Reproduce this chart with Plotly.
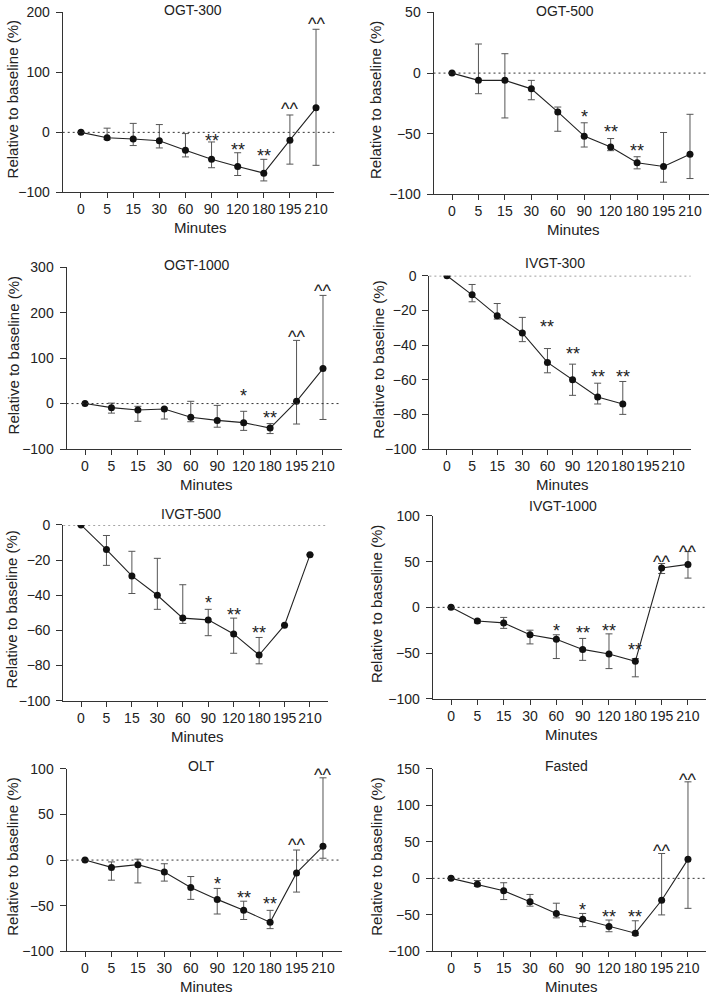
import plotly.graph_objects as go

W, H = 709, 996

categories = ["0", "5", "15", "30", "60", "90", "120", "180", "195", "210"]

# ---- data (mean, upper bound, lower bound of error bar) ----
ogt300_mean = [0, -9, -11, -14, -30, -45, -57, -68, -13, 41]
ogt300_up = [0, 7, 15, 13, -2, -16, -34, -45, 29, 172]
ogt300_lo = [0, -12, -22, -26, -41, -59, -72, -81, -53, -55]
ogt300_sig = ["", "", "", "", "", "**", "**", "**", "^^", "^^"]
ogt300_sig_y = [None, None, None, None, None, -8, -22, -33, 45, 187]

ogt500_mean = [0, -6, -6, -13, -32, -52, -61, -74, -77, -67]
ogt500_up = [0, 24, 16, -6, -28, -41, -54, -69, -49, -34]
ogt500_lo = [0, -17, -37, -22, -48, -61, -64, -79, -90, -87]
ogt500_sig = ["", "", "", "", "", "*", "**", "**", "", ""]
ogt500_sig_y = [None, None, None, None, None, -33, -45, -61, None, None]

ogt1000_mean = [0, -9, -14, -12, -30, -37, -42, -54, 5, 77]
ogt1000_up = [0, 1, -6, -10, 5, -4, -17, -44, 139, 238]
ogt1000_lo = [0, -21, -39, -34, -40, -52, -59, -66, -45, -35]
ogt1000_sig = ["", "", "", "", "", "", "*", "**", "^^", "^^"]
ogt1000_sig_y = [None, None, None, None, None, None, 26, -24, 155, 256]

ivgt300_mean = [0, -11, -23, -33, -50, -60, -70, -74]
ivgt300_up = [0, -5, -16, -24, -42, -51, -62, -61]
ivgt300_lo = [0, -15, -25, -38, -56, -69, -74, -80]
ivgt300_sig = ["", "", "", "", "**", "**", "**", "**"]
ivgt300_sig_y = [None, None, None, None, -27, -43, -56, -56]

ivgt500_mean = [0, -14, -29, -40, -53, -54, -62, -74, -57, -17]
ivgt500_up = [0, -6, -15, -19, -34, -48, -53, -64, -57, -17]
ivgt500_lo = [0, -23, -39, -48, -56, -63, -73, -79, -57, -17]
ivgt500_sig = ["", "", "", "", "", "*", "**", "**", "", ""]
ivgt500_sig_y = [None, None, None, None, None, -42, -49, -59, None, None]

ivgt1000_mean = [0, -15, -17, -30, -35, -46, -51, -59, 43, 47]
ivgt1000_up = [0, -14, -11, -25, -30, -34, -29, -56, 48, 61]
ivgt1000_lo = [0, -17, -23, -40, -56, -58, -67, -76, 37, 32]
ivgt1000_sig = ["", "", "", "", "*", "**", "**", "**", "^^", "^^"]
ivgt1000_sig_y = [None, None, None, None, -22, -24, -22, -42, 54, 65]

olt_mean = [0, -8, -5, -13, -30, -43, -55, -68, -14, 15]
olt_up = [0, -2, 1, -4, -18, -31, -45, -55, 11, 90]
olt_lo = [0, -22, -25, -23, -43, -59, -65, -75, -35, 2]
olt_sig = ["", "", "", "", "", "*", "**", "**", "^^", "^^"]
olt_sig_y = [None, None, None, None, None, -22, -37, -44, 21, 98]

fasted_mean = [0, -8, -17, -32, -48, -56, -66, -75, -30, 26]
fasted_up = [0, -3, -6, -22, -34, -48, -57, -58, 34, 132]
fasted_lo = [0, -11, -29, -38, -54, -66, -73, -78, -50, -41]
fasted_sig = ["", "", "", "", "", "*", "**", "**", "^^", "^^"]
fasted_sig_y = [None, None, None, None, None, -38, -47, -48, 43, 140]

titles = ["OGT-300", "OGT-500", "OGT-1000", "IVGT-300",
          "IVGT-500", "IVGT-1000", "OLT", "Fasted"]

y_ticks = [
    [-100, 0, 100, 200],
    [-100, -50, 0, 50],
    [-100, 0, 100, 200, 300],
    [-100, -80, -60, -40, -20, 0],
    [-100, -80, -60, -40, -20, 0],
    [-100, -50, 0, 50, 100],
    [-100, -50, 0, 50, 100],
    [-100, -50, 0, 50, 100, 150],
]

series = [
    (ogt300_mean, ogt300_up, ogt300_lo, ogt300_sig, ogt300_sig_y),
    (ogt500_mean, ogt500_up, ogt500_lo, ogt500_sig, ogt500_sig_y),
    (ogt1000_mean, ogt1000_up, ogt1000_lo, ogt1000_sig, ogt1000_sig_y),
    (ivgt300_mean, ivgt300_up, ivgt300_lo, ivgt300_sig, ivgt300_sig_y),
    (ivgt500_mean, ivgt500_up, ivgt500_lo, ivgt500_sig, ivgt500_sig_y),
    (ivgt1000_mean, ivgt1000_up, ivgt1000_lo, ivgt1000_sig, ivgt1000_sig_y),
    (olt_mean, olt_up, olt_lo, olt_sig, olt_sig_y),
    (fasted_mean, fasted_up, fasted_lo, fasted_sig, fasted_sig_y),
]

# ---- layout (target pixel boxes in the picture: left, right, top, bottom) ----
boxes = [
    (62.7, 334.3, 11, 191),
    (433.5, 708.5, 11, 193),
    (66.5, 341.5, 266, 448),
    (429.4, 690.6, 274.6, 448),
    (63.2, 327.8, 524, 700),
    (432.6, 706.4, 515, 698),
    (66.5, 341.5, 768, 951),
    (432.6, 706.4, 768, 951),
]
title_pos = [(193, 8.5), (565, 9.3), (197, 263.3), (555, 261.7),
             (191.3, 513.3), (562.8, 505), (201.7, 765), (566, 765)]
ytitle_x = [12, 375.7, 13.3, 378.3, 11.7, 376.7, 11.7, 375.7]


def ry(p):
    # vertical correction measured for the capture (picture = 6.5 + 0.985 * layout)
    return (p - 6.5) / 0.985


FONT = "Liberation Sans, Arial, Helvetica, sans-serif"
TXT = "#222222"
AX = "#333333"

fig = go.Figure()
annotations = []
shapes = []
layout = {}

for i, (mean, up, lo, sig, sig_y) in enumerate(series):
    n = "" if i == 0 else str(i + 1)
    xa, ya = "x" + n, "y" + n
    xs = list(range(len(mean)))
    plus = [u - m for u, m in zip(up, mean)]
    minus = [m - l for m, l in zip(mean, lo)]
    fig.add_trace(go.Scatter(
        x=xs, y=mean, xaxis=xa, yaxis=ya, mode="lines+markers",
        line=dict(color="#222222", width=1.1),
        marker=dict(color="#111111", size=7),
        error_y=dict(type="data", symmetric=False, array=plus, arrayminus=minus,
                     color="#555555", thickness=1, width=3.5),
        showlegend=False, hoverinfo="skip"))

    l, r, t, b = boxes[i]
    yt = y_ticks[i]
    layout["xaxis" + n] = dict(
        domain=[l / W, r / W], anchor=ya, range=[-0.7, 9.7],
        tickmode="array", tickvals=list(range(len(categories))), ticktext=categories,
        tickangle=0, ticklabelstandoff=-1,
        showline=True, linecolor=AX, linewidth=1, ticks="outside", ticklen=5,
        tickcolor=AX, tickwidth=1, showgrid=False, zeroline=False,
        tickfont=dict(family=FONT, size=14, color=TXT), fixedrange=True)
    layout["yaxis" + n] = dict(
        domain=[1 - ry(b) / H, 1 - ry(t) / H], anchor=xa, range=[yt[0], yt[-1]],
        tickmode="array", tickvals=yt, ticklabelstandoff=3,
        showline=True, linecolor=AX, linewidth=1, ticks="outside", ticklen=6,
        tickcolor=AX, tickwidth=1, showgrid=False, zeroline=False,
        tickfont=dict(family=FONT, size=14, color=TXT), fixedrange=True)

    # dotted baseline
    shapes.append(dict(type="line", xref=xa + " domain", yref=ya, x0=0, x1=1,
                       y0=0, y1=0, line=dict(color="#333333", width=1, dash="2px,3px")))

    # titles
    tx, ty = title_pos[i]
    annotations.append(dict(text=titles[i], xref="paper", yref="paper",
                            x=tx / W, y=1 - ry(ty) / H, xanchor="center", yanchor="middle",
                            showarrow=False, font=dict(family=FONT, size=14, color=TXT)))
    annotations.append(dict(text="Minutes", xref="paper", yref="paper",
                            x=((l + r) / 2 + 2) / W, y=1 - ry(b + 35.5) / H,
                            xanchor="center", yanchor="middle", showarrow=False,
                            font=dict(family=FONT, size=15, color=TXT)))
    annotations.append(dict(text="Relative to baseline (%)", xref="paper", yref="paper",
                            x=ytitle_x[i] / W, y=1 - ry((t + b) / 2 - 3) / H,
                            xanchor="center", yanchor="middle", textangle=-90,
                            showarrow=False, font=dict(family=FONT, size=15, color=TXT)))
    # significance marks
    for k, (s, sy) in enumerate(zip(sig, sig_y)):
        if s:
            annotations.append(dict(text=s, xref=xa, yref=ya, x=k, y=sy,
                                    xanchor="center", yanchor="middle", yshift=-4,
                                    showarrow=False,
                                    font=dict(family=FONT, size=18, color=TXT)))

fig.update_layout(width=W, height=H, autosize=False,
                  margin=dict(l=0, r=0, t=0, b=0),
                  paper_bgcolor="white", plot_bgcolor="white",
                  annotations=annotations, shapes=shapes, **layout)

fig.write_html("out.html", config={"displayModeBar": False},
               post_script="document.body.style.margin='0';")
